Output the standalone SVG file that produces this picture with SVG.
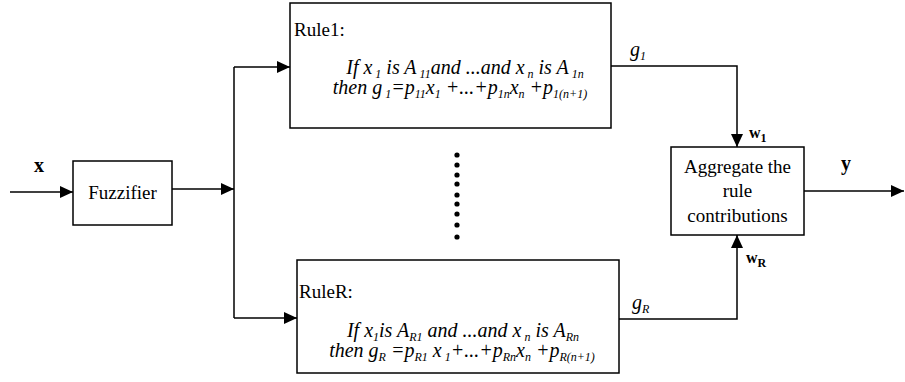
<svg xmlns="http://www.w3.org/2000/svg" width="905" height="382" viewBox="0 0 905 382">
<defs>
<marker id="arr" markerUnits="userSpaceOnUse" markerWidth="14" markerHeight="12" refX="13" refY="6" orient="auto">
<path d="M0,0 L13,6 L0,12 Z" fill="#000"/>
</marker>
<style>
.box{fill:#fff;stroke:#000;stroke-width:1.5}
.ln{fill:none;stroke:#000;stroke-width:1.5}
.t{font-family:"Liberation Serif","Times New Roman",serif;font-size:19px;fill:#000}
.it{font-family:"Liberation Serif","Times New Roman",serif;font-size:20px;font-style:italic;fill:#000}
.sub{font-size:12px}
.b{font-family:"Liberation Serif","Times New Roman",serif;font-weight:bold;fill:#000}
</style>
</defs>
<rect width="905" height="382" fill="#fff"/>
<g id="connectors">
<path class="ln" d="M10,192 H73" marker-end="url(#arr)"/>
<path class="ln" d="M172,189 H234" marker-end="url(#arr)"/>
<path class="ln" d="M234,67 V318"/>
<path class="ln" d="M234,67 H290" marker-end="url(#arr)"/>
<path class="ln" d="M234,318 H297" marker-end="url(#arr)"/>
<path class="ln" d="M611,66 H737 V147" marker-end="url(#arr)"/>
<path class="ln" d="M619,319 H737 V235" marker-end="url(#arr)"/>
<path class="ln" d="M804,191 H904" marker-end="url(#arr)"/>
<text class="b" x="34" y="172" font-size="20">x</text>
<text class="b" x="841" y="170" font-size="20">y</text>
<text class="it" x="630" y="56">g<tspan class="sub" dy="4">1</tspan></text>
<text class="it" x="632" y="309">g<tspan class="sub" dy="4">R</tspan></text>
<text class="b" x="749" y="138" font-size="16" font-weight="normal" style="font-weight:600">w<tspan class="sub" dy="4" font-size="12">1</tspan></text>
<text class="b" x="746" y="263" font-size="16" style="font-weight:600">w<tspan class="sub" dy="4" font-size="12">R</tspan></text>
</g>
<g id="fuzzifier">
<rect class="box" x="73" y="161" width="99" height="64"/>
<text class="t" x="122.5" y="199" text-anchor="middle">Fuzzifier</text>
</g>
<g id="rule1">
<rect class="box" x="290" y="3" width="321" height="125"/>
<text class="t" x="294" y="36">Rule1:</text>
<text class="it" x="465" y="74" text-anchor="middle">If x<tspan class="sub" dy="4"> 1</tspan><tspan dy="-4"> is A</tspan><tspan class="sub" dy="4"> 11</tspan><tspan dy="-4">and ...and x</tspan><tspan class="sub" dy="4"> n</tspan><tspan dy="-4"> is A</tspan><tspan class="sub" dy="4"> 1n</tspan></text>
<text class="it" x="460" y="94" text-anchor="middle">then g<tspan class="sub" dy="4"> 1</tspan><tspan dy="-4">=p</tspan><tspan class="sub" dy="4">11</tspan><tspan dy="-4">x</tspan><tspan class="sub" dy="4">1</tspan><tspan dy="-4"> +...+p</tspan><tspan class="sub" dy="4">1n</tspan><tspan dy="-4">x</tspan><tspan class="sub" dy="4">n</tspan><tspan dy="-4"> +p</tspan><tspan class="sub" dy="4">1(n+1)</tspan></text>
</g>
<g id="dots" fill="#000">
<circle cx="457" cy="155" r="2.6"/>
<circle cx="457" cy="165" r="2.6"/>
<circle cx="457" cy="175" r="2.6"/>
<circle cx="457" cy="184" r="2.6"/>
<circle cx="457" cy="195" r="2.6"/>
<circle cx="457" cy="204" r="2.6"/>
<circle cx="457" cy="214" r="2.6"/>
<circle cx="457" cy="225" r="2.6"/>
<circle cx="457" cy="237" r="2.6"/>
</g>
<g id="ruleR">
<rect class="box" x="297" y="260" width="322" height="113"/>
<text class="t" x="299" y="298">RuleR:</text>
<text class="it" x="463" y="337" text-anchor="middle">If x<tspan class="sub" dy="4">1</tspan><tspan dy="-4">is A</tspan><tspan class="sub" dy="4">R1</tspan><tspan dy="-4"> and ...and  x</tspan><tspan class="sub" dy="4"> n</tspan><tspan dy="-4"> is A</tspan><tspan class="sub" dy="4">Rn</tspan></text>
<text class="it" x="462" y="357" text-anchor="middle">then g<tspan class="sub" dy="4">R</tspan><tspan dy="-4"> =p</tspan><tspan class="sub" dy="4">R1</tspan><tspan dy="-4"> x</tspan><tspan class="sub" dy="4"> 1</tspan><tspan dy="-4">+...+p</tspan><tspan class="sub" dy="4">Rn</tspan><tspan dy="-4">x</tspan><tspan class="sub" dy="4">n</tspan><tspan dy="-4"> +p</tspan><tspan class="sub" dy="4">R(n+1)</tspan></text>
</g>
<g id="aggregate">
<rect class="box" x="671" y="147" width="133" height="88"/>
<text class="t" x="737.5" y="173" text-anchor="middle">Aggregate the</text>
<text class="t" x="737.5" y="197" text-anchor="middle">rule</text>
<text class="t" x="737.5" y="222" text-anchor="middle">contributions</text>
</g>
</svg>
